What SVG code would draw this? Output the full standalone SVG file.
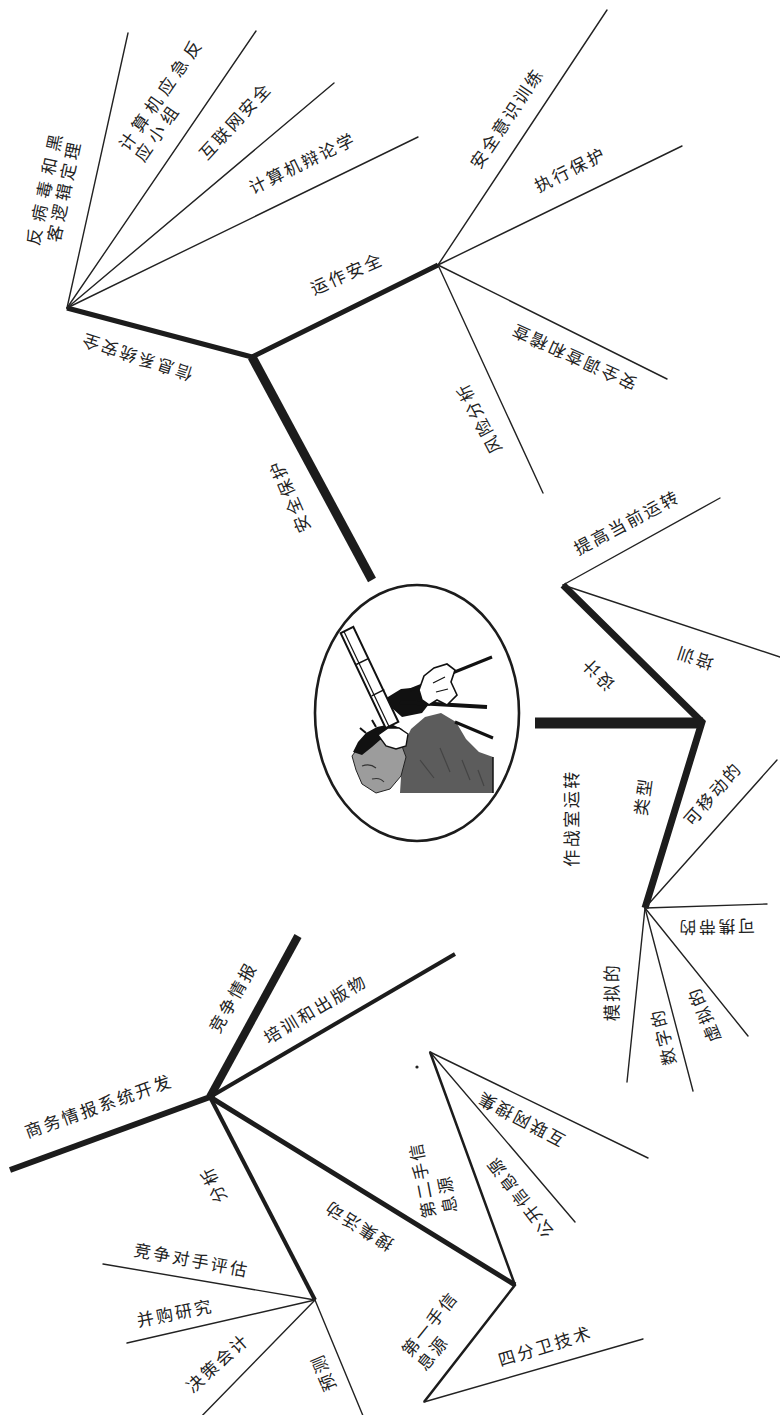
<svg xmlns="http://www.w3.org/2000/svg" width="780" height="1415" viewBox="0 0 780 1415">
  <style>
    .bg { fill: #ffffff; }
    .thin { stroke: #222; stroke-width: 1.4; fill: none; stroke-linecap: round; }
    .thick { stroke: #1c1c1c; fill: none; stroke-linejoin: miter; }
    .ink { stroke: #111; fill: none; }
    .t { font-family: "Noto Sans CJK SC", "Noto Sans", sans-serif; font-size: 17px; fill: #222;
         text-anchor: middle; dominant-baseline: central; letter-spacing: 2.5px; }
  </style>

  <rect class="bg" x="0" y="0" width="780" height="1415"/>

  <!-- connectors -->
  <g id="connectors">
    <!-- upper tree -->
    <line class="thick" x1="252" y1="357" x2="372" y2="580" stroke-width="9"/>
    <polyline class="thick" points="67,308 252,357 438,265" stroke-width="5"/>
    <line class="thin" x1="67" y1="308" x2="128" y2="33"/>
    <line class="thin" x1="67" y1="308" x2="256" y2="31"/>
    <line class="thin" x1="67" y1="308" x2="334" y2="83"/>
    <line class="thin" x1="67" y1="308" x2="418" y2="137"/>
    <line class="thin" x1="438" y1="265" x2="607" y2="10"/>
    <line class="thin" x1="438" y1="265" x2="682" y2="146"/>
    <line class="thin" x1="438" y1="265" x2="667" y2="379"/>
    <line class="thin" x1="438" y1="265" x2="543" y2="493"/>

    <!-- right tree -->
    <line class="thick" x1="535" y1="723" x2="703" y2="723" stroke-width="11"/>
    <polyline class="thick" points="563,585 702,722 645,908" stroke-width="7"/>
    <line class="thin" x1="563" y1="585" x2="720" y2="498"/>
    <line class="thin" x1="563" y1="585" x2="780" y2="657"/>
    <line class="thin" x1="645" y1="908" x2="777" y2="760"/>
    <line class="thin" x1="645" y1="908" x2="767" y2="904"/>
    <line class="thin" x1="645" y1="908" x2="748" y2="1036"/>
    <line class="thin" x1="645" y1="908" x2="693" y2="1091"/>
    <line class="thin" x1="645" y1="908" x2="627" y2="1082"/>

    <!-- lower-left tree -->
    <line class="thick" x1="210" y1="1097" x2="10" y2="1170" stroke-width="6"/>
    <line class="thick" x1="210" y1="1097" x2="298" y2="936" stroke-width="8"/>
    <line class="thick" x1="210" y1="1097" x2="455" y2="954" stroke-width="4"/>
    <line class="thick" x1="210" y1="1097" x2="315" y2="1300" stroke-width="4"/>
    <line class="thick" x1="210" y1="1097" x2="515" y2="1285" stroke-width="5"/>
    <polyline class="thick" points="430,1052 515,1285 424,1402" stroke-width="2.5"/>
    <line class="thin" x1="430" y1="1052" x2="648" y2="1158"/>
    <line class="thin" x1="430" y1="1052" x2="575" y2="1222"/>
    <line class="thin" x1="424" y1="1402" x2="643" y2="1339"/>
    <line class="thin" x1="315" y1="1300" x2="103" y2="1264"/>
    <line class="thin" x1="315" y1="1300" x2="127" y2="1343"/>
    <line class="thin" x1="315" y1="1300" x2="195" y2="1423"/>
    <line class="thin" x1="315" y1="1300" x2="366" y2="1423"/>
    <circle cx="417" cy="1067" r="1.6" fill="#222"/>
  </g>

  <!-- central picture: man looking through a telescope -->
  <g id="center">
    <ellipse cx="417" cy="713" rx="102" ry="128" fill="#fff" stroke="#1c1c1c" stroke-width="2.6"/>
    <!-- coat -->
    <polygon points="400,793 493,793 493,757 479,752 466,739 456,722 441,713 425,717 411,729 403,746" fill="#5c5c5c"/>
    <path d="M420,760 l14,18 M440,748 l10,24 M462,760 l8,20 M478,770 l6,16" stroke="#444" stroke-width="1.2" fill="none"/>
    <line x1="493" y1="757" x2="493" y2="793" stroke="#111" stroke-width="1.5"/>
    <!-- face -->
    <polygon points="352,756 361,744 373,737 388,735 400,741 406,757 401,776 390,789 376,793 362,784 356,770" fill="#9c9c9c" stroke="#222" stroke-width="1"/>
    <path d="M362,766 q8,-3 14,2 M372,779 q8,-2 12,3" stroke="#333" stroke-width="1.1" fill="none"/>
    <!-- hair -->
    <polygon points="353,752 358,742 366,733 377,727 391,724 402,729 406,737 398,741 390,737 380,740 372,747 362,755" fill="#111"/>
    <path d="M366,733 l-6,-5 M376,727 l-4,-7 M390,724 l1,-7" stroke="#111" stroke-width="2" fill="none"/>
    <!-- hand at the eyepiece -->
    <polygon points="378,735 388,728 399,728 408,734 406,746 396,749 386,746" fill="#fff" stroke="#111" stroke-width="1.4"/>
    <!-- arm -->
    <polygon points="383,700 401,689 421,687 433,699 422,713 402,717" fill="#111"/>
    <!-- rods -->
    <line x1="410" y1="690" x2="492" y2="657" stroke="#111" stroke-width="3"/>
    <line x1="400" y1="702" x2="487" y2="707" stroke="#111" stroke-width="4"/>
    <line x1="455" y1="722" x2="493" y2="738" stroke="#111" stroke-width="3"/>
    <!-- hand on the stand -->
    <polygon points="419,690 424,676 434,668 447,664 455,670 451,682 457,695 447,705 437,700 429,705 422,700" fill="#fff" stroke="#111" stroke-width="1.6"/>
    <path d="M433,683 l12,-6 M436,692 l12,-3" class="ink" stroke-width="1.2"/>
    <!-- telescope tube -->
    <polygon points="340.7,633.1 353.3,626.9 398.3,721.9 385.7,728.1" fill="#fff" stroke="#111" stroke-width="2"/>
    <line x1="344" y1="631.5" x2="389" y2="726.5" stroke="#111" stroke-width="1.2"/>
    <line x1="356.2" y1="664.5" x2="368.8" y2="658.3" stroke="#111" stroke-width="1.5"/>
    <line x1="371.7" y1="695.9" x2="384.3" y2="689.7" stroke="#111" stroke-width="1.5"/>
  </g>

  <!-- upper tree labels -->
  <g id="n-security-protection"><text class="t" transform="translate(288.5,496.5) rotate(-113.5)">安全保护</text></g>
  <g id="n-infosys-security"><text class="t" transform="translate(136,358) rotate(-162)">信息系统安全</text></g>
  <g id="n-operation-security"><text class="t" transform="translate(346.5,272.5) rotate(-24)">运作安全</text></g>
  <g id="n-antivirus">
    <text class="t" transform="translate(44,186) rotate(-78)" style="letter-spacing:7px">反病毒和黑</text>
    <text class="t" transform="translate(63,190) rotate(-78)" style="letter-spacing:4px">客逻辑定理</text>
  </g>
  <g id="n-cert">
    <text class="t" transform="translate(160.5,92.5) rotate(-55)" style="letter-spacing:5.5px">计算机应急反</text>
    <text class="t" transform="translate(157,131) rotate(-55)" style="letter-spacing:5.5px">应小组</text>
  </g>
  <g id="n-internet-security"><text class="t" transform="translate(234.5,120) rotate(-47.5)">互联网安全</text></g>
  <g id="n-forensics"><text class="t" transform="translate(302,162) rotate(-26)">计算机辩论学</text></g>
  <g id="n-awareness"><text class="t" transform="translate(506,117.5) rotate(-56)">安全意识训练</text></g>
  <g id="n-enforce"><text class="t" transform="translate(570,168.5) rotate(-26.6)">执行保护</text></g>
  <g id="n-audit"><text class="t" transform="translate(573,358) rotate(-155.6)">安全调查和稽查</text></g>
  <g id="n-risk"><text class="t" transform="translate(477.5,418.5) rotate(-118)">风险分析</text></g>

  <!-- right tree labels -->
  <g id="n-warroom"><text class="t" transform="translate(570,818) rotate(-90)">作战室运转</text></g>
  <g id="n-design"><text class="t" transform="translate(597,675) rotate(-135)">设计</text></g>
  <g id="n-improve"><text class="t" transform="translate(626.5,521.5) rotate(-28)">提高当前运转</text></g>
  <g id="n-training"><text class="t" transform="translate(694,659) rotate(198)">培训</text></g>
  <g id="n-types"><text class="t" transform="translate(642,796) rotate(-82)">类型</text></g>
  <g id="n-mobile"><text class="t" transform="translate(712,793) rotate(-48.7)">可移动的</text></g>
  <g id="n-portable"><text class="t" transform="translate(716,928) rotate(179)">可携带的</text></g>
  <g id="n-virtual"><text class="t" transform="translate(703,1015) rotate(-113)">虚拟的</text></g>
  <g id="n-digital"><text class="t" transform="translate(662,1037) rotate(-104)">数字的</text></g>
  <g id="n-analog"><text class="t" transform="translate(610,992) rotate(-90)">模拟的</text></g>

  <!-- lower-left tree labels -->
  <g id="n-bisd"><text class="t" transform="translate(98.5,1105) rotate(-19.7)">商务情报系统开发</text></g>
  <g id="n-ci"><text class="t" transform="translate(232,996.5) rotate(-60.5)">竞争情报</text></g>
  <g id="n-training-pub"><text class="t" transform="translate(315,1008) rotate(-30.8)">培训和出版物</text></g>
  <g id="n-analysis"><text class="t" transform="translate(212,1185) rotate(-117)">分析</text></g>
  <g id="n-collection"><text class="t" transform="translate(358,1227) rotate(-148)">搜集活动</text></g>
  <g id="n-secondary">
    <text class="t" transform="translate(421,1180) rotate(-101)">第二手信</text>
    <text class="t" transform="translate(446,1194) rotate(-101)">息源</text>
  </g>
  <g id="n-internet-search"><text class="t" transform="translate(520,1120) rotate(-152)">互联网搜集</text></g>
  <g id="n-public"><text class="t" transform="translate(519,1198) rotate(-128)">公开信息源</text></g>
  <g id="n-primary">
    <text class="t" transform="translate(429,1323) rotate(-51)">第一手信</text>
    <text class="t" transform="translate(432,1352) rotate(-51)">息源</text>
  </g>
  <g id="n-quarterback"><text class="t" transform="translate(545,1345) rotate(-17)">四分卫技术</text></g>
  <g id="n-comp-assess"><text class="t" transform="translate(192,1259) rotate(10.5)">竞争对手评估</text></g>
  <g id="n-ma"><text class="t" transform="translate(175,1312) rotate(-11.5)">并购研究</text></g>
  <g id="n-decision-acct"><text class="t" transform="translate(217,1362) rotate(-42)">决策会计</text></g>
  <g id="n-forecast"><text class="t" transform="translate(322,1373) rotate(-113)">预测</text></g>
</svg>
